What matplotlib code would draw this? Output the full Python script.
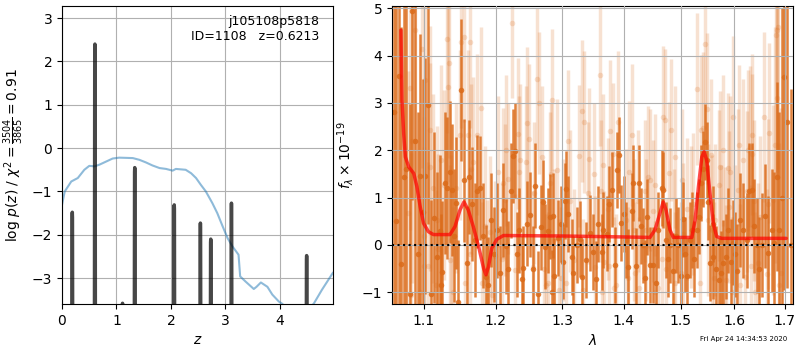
import numpy as np
import matplotlib
matplotlib.use('Agg')
import matplotlib.pyplot as plt
from matplotlib.ticker import FormatStrFormatter, NullLocator

# --- redshift fit: log p(z) peaks and smooth prior curve ---
pz_z = [0.000, 0.177, 0.186, 0.189, 0.192, 0.201,
        0.592, 0.601, 0.604, 0.607, 0.616,
        1.100, 1.108, 1.111, 1.114, 1.122,
        1.323, 1.332, 1.335, 1.338, 1.347,
        2.048, 2.057, 2.060, 2.063, 2.072,
        2.528, 2.537, 2.540, 2.543, 2.552,
        2.718, 2.727, 2.730, 2.733, 2.742,
        3.098, 3.107, 3.110, 3.113, 3.122,
        4.478, 4.487, 4.490, 4.493, 4.502, 4.970]
pz_logp = [-8.0, -8.0, -1.60, -1.48, -1.60, -8.0,
           -8.0, 2.30, 2.40, 2.30, -8.0,
           -8.0, -3.62, -3.58, -3.62, -8.0,
           -8.0, -0.55, -0.45, -0.55, -8.0,
           -8.0, -1.40, -1.31, -1.40, -8.0,
           -8.0, -1.82, -1.73, -1.82, -8.0,
           -8.0, -2.18, -2.10, -2.18, -8.0,
           -8.0, -1.36, -1.27, -1.36, -8.0,
           -8.0, -2.56, -2.48, -2.56, -8.0, -8.0]

prior_z = [0.00, 0.05, 0.17, 0.29, 0.41, 0.50, 0.60, 0.69, 0.81, 0.93, 1.05,
           1.30, 1.42, 1.54, 1.66, 1.79, 1.91, 2.03, 2.09, 2.27, 2.37, 2.46,
           2.55, 2.64, 2.76, 2.85, 2.95, 3.04, 3.13, 3.24, 3.27, 3.37, 3.52,
           3.57, 3.65, 3.77, 3.86, 3.98, 4.04, 4.20, 4.40, 4.62, 4.77, 4.97]
prior_logp = [-1.31, -1.00, -0.77, -0.69, -0.50, -0.41, -0.42, -0.38, -0.31,
              -0.24, -0.22, -0.23, -0.27, -0.33, -0.40, -0.46, -0.48, -0.52,
              -0.48, -0.50, -0.58, -0.69, -0.85, -1.00, -1.27, -1.50, -1.81,
              -2.08, -2.27, -2.46, -2.96, -3.08, -3.25, -3.20, -3.10, -3.20,
              -3.38, -3.54, -3.59, -3.80, -3.85, -3.59, -3.27, -2.88]

# --- spectrum, first orient (dark) ---
wave_a = [1.0610, 1.0645, 1.0674, 1.0705, 1.0745, 1.0773, 1.0816, 1.0855, 1.0890,
          1.0921, 1.0956, 1.0990, 1.1023, 1.1066, 1.1106, 1.1142, 1.1178, 1.1215,
          1.1240, 1.1252, 1.1289, 1.1322, 1.1357, 1.1384, 1.1415, 1.1442, 1.1474,
          1.1515, 1.1550, 1.1599, 1.1627, 1.1665, 1.1700, 1.1731, 1.1775, 1.1820,
          1.1863, 1.1883, 1.1939, 1.1975, 1.2017, 1.2065, 1.2113, 1.2148, 1.2186,
          1.2222, 1.2260, 1.2283, 1.2315, 1.2349, 1.2394, 1.2409, 1.2469, 1.2509,
          1.2560, 1.2585, 1.2635, 1.2672, 1.2705, 1.2738, 1.2779, 1.2813, 1.2850,
          1.2865, 1.2882, 1.2930, 1.2980, 1.3010, 1.3043, 1.3060, 1.3101, 1.3155,
          1.3171, 1.3234, 1.3287, 1.3323, 1.3385, 1.3447, 1.3501, 1.3540, 1.3582,
          1.3638, 1.3664, 1.3720, 1.3753, 1.3813, 1.3862, 1.3896, 1.3926, 1.3953,
          1.4008, 1.4045, 1.4081, 1.4139, 1.4167, 1.4212, 1.4269, 1.4300, 1.4338,
          1.4370, 1.4407, 1.4454, 1.4512, 1.4555, 1.4600, 1.4660, 1.4690, 1.4736,
          1.4770, 1.4806, 1.4860, 1.4910, 1.4957, 1.5000, 1.5048, 1.5085, 1.5121,
          1.5160, 1.5202, 1.5250, 1.5295, 1.5335, 1.5374, 1.5410, 1.5449, 1.5477,
          1.5510, 1.5543, 1.5592, 1.5601, 1.5650, 1.5700, 1.5745, 1.5790, 1.5840,
          1.5885, 1.5930, 1.5970, 1.6020, 1.6060, 1.6111, 1.6175, 1.6241, 1.6292,
          1.6340, 1.6390, 1.6438, 1.6490, 1.6538, 1.6604, 1.6670, 1.6738, 1.6790,
          1.6839, 1.6892, 1.6950, 1.6988, 1.7050, 1.7140]
flux_a = [2.80, 0.50, 3.57, -0.40, 1.44, 1.60, -1.03, 4.94, 2.20,
          -0.19, 1.46, 0.70, 1.46, 2.95, -1.04, 0.58, -0.26, 0.30,
          -0.84, -0.57, 1.31, 1.20, 1.55, 1.16, 0.20, 0.89, -1.20,
          3.27, 1.37, -0.38, 1.44, 0.86, 0.10, 1.13, 1.20, 0.20,
          -0.68, -0.84, 0.53, -0.20, 0.31, -0.60, 0.74, -0.03, -0.50,
          1.15, 1.88, 1.99, -0.20, 0.31, -0.72, -0.49, 0.45, 0.64,
          -0.50, 1.25, -1.03, 0.37, 0.90, -0.04, 0.30, 0.60, -1.00,
          0.62, -0.66, 0.15, 0.45, -0.35, 0.93, 1.18, 0.65, -0.25,
          -0.60, 0.00, 0.12, -0.67, -0.31, 0.26, -0.15, -0.72, 0.44,
          -0.15, 0.32, 0.24, 0.86, 1.17, -0.42, 1.58, 1.90, 0.46,
          0.66, 0.10, -0.46, 0.72, 1.31, -0.44, 1.31, 0.40, -0.01,
          -0.70, 0.59, -0.42, -0.42, -0.80, 0.31, 1.21, 1.16, 0.10,
          -0.30, -0.01, -0.55, 0.20, 0.00, -0.65, 0.54, -0.20, -0.66,
          0.10, 0.31, -0.30, 0.31, 0.60, 1.31, 1.60, 2.18, 1.79,
          0.90, -0.38, 0.45, -0.25, -0.50, -0.75, -0.60, -0.38, -0.25,
          0.31, -0.35, 0.05, -0.20, -0.55, 0.53, 0.31, 0.10, 1.15,
          1.16, 0.40, -0.01, -0.50, 0.00, 0.62, -0.16, 0.31, 0.05,
          1.44, 0.32, 1.00, 3.54, 2.60, 0.00]
err_a = [6.0, 5.5, 5.0, 5.0, 4.0, 4.0, 4.0, 4.0, 3.5,
         3.0, 3.0, 2.8, 2.5, 2.5, 2.0, 1.8, 1.8, 1.6,
         1.5, 1.5, 1.5, 1.5, 1.5, 1.4, 1.4, 1.4, 1.3,
         1.5, 1.3, 1.2, 1.2, 1.2, 1.2, 1.2, 1.1, 1.1,
         1.1, 1.0, 1.0, 1.0, 1.0, 1.0, 1.0, 1.0, 1.0,
         1.0, 1.0, 1.0, 0.9, 0.9, 0.9, 0.9, 0.9, 0.9,
         0.9, 0.9, 0.9, 0.9, 0.9, 0.9, 0.9, 0.9, 0.9,
         0.9, 0.8, 0.8, 0.8, 0.8, 0.8, 0.8, 0.8, 0.8,
         0.8, 0.8, 0.8, 0.8, 0.8, 0.8, 0.8, 0.8, 0.8,
         0.8, 0.8, 0.8, 0.8, 0.8, 0.8, 0.8, 0.8, 0.8,
         0.8, 0.8, 0.8, 0.8, 0.8, 0.8, 0.8, 0.8, 0.8,
         0.8, 0.8, 0.8, 0.8, 0.8, 0.8, 0.8, 0.8, 0.8,
         0.8, 0.8, 0.8, 0.8, 0.8, 0.8, 0.8, 0.8, 0.8,
         0.8, 0.8, 0.8, 0.8, 0.8, 0.8, 0.8, 0.8, 0.8,
         0.8, 0.8, 0.8, 0.9, 0.9, 0.9, 0.9, 0.9, 0.9,
         0.9, 0.9, 0.9, 0.9, 1.0, 1.0, 1.0, 1.0, 1.0,
         1.0, 1.0, 1.0, 1.1, 1.1, 1.1, 1.2, 1.3, 1.5,
         2.0, 2.5, 4.0, 4.5, 3.5, 3.3]

# --- spectrum, second orient (light) ---
wave_b = [1.0800, 1.0826, 1.0830, 1.0850, 1.0891, 1.0950, 1.0979, 1.1000, 1.1010,
          1.1022, 1.1060, 1.1080, 1.1085, 1.1130, 1.1164, 1.1180, 1.1195, 1.1240,
          1.1270, 1.1312, 1.1333, 1.1347, 1.1355, 1.1376, 1.1395, 1.1445, 1.1490,
          1.1515, 1.1550, 1.1560, 1.1604, 1.1628, 1.1640, 1.1650, 1.1680, 1.1731,
          1.1785, 1.1800, 1.1850, 1.1880, 1.1920, 1.1945, 1.1985, 1.2041, 1.2085,
          1.2100, 1.2140, 1.2153, 1.2180, 1.2245, 1.2284, 1.2325, 1.2340, 1.2362,
          1.2441, 1.2469, 1.2495, 1.2557, 1.2575, 1.2620, 1.2645, 1.2691, 1.2715,
          1.2745, 1.2781, 1.2805, 1.2825, 1.2845, 1.2870, 1.2922, 1.2945, 1.2980,
          1.3010, 1.3065, 1.3101, 1.3130, 1.3183, 1.3264, 1.3313, 1.3330, 1.3355,
          1.3420, 1.3436, 1.3512, 1.3530, 1.3609, 1.3620, 1.3640, 1.3655, 1.3670,
          1.3745, 1.3760, 1.3778, 1.3822, 1.3839, 1.3875, 1.3903, 1.4040, 1.4070,
          1.4095, 1.4148, 1.4170, 1.4195, 1.4240, 1.4265, 1.4370, 1.4385, 1.4424,
          1.4460, 1.4500, 1.4535, 1.4550, 1.4590, 1.4660, 1.4680, 1.4710, 1.4735,
          1.4790, 1.4820, 1.4880, 1.4890, 1.4905, 1.5000, 1.5020, 1.5040, 1.5110,
          1.5180, 1.5215, 1.5305, 1.5360, 1.5380, 1.5400, 1.5449, 1.5477, 1.5500,
          1.5560, 1.5580, 1.5610, 1.5635, 1.5700, 1.5725, 1.5745, 1.5790, 1.5815,
          1.5850, 1.5875, 1.5900, 1.5925, 1.5950, 1.5985, 1.6005, 1.6080, 1.6100,
          1.6120, 1.6170, 1.6200, 1.6240, 1.6270, 1.6300, 1.6325, 1.6340, 1.6355,
          1.6380, 1.6410, 1.6460, 1.6500, 1.6590, 1.6640, 1.6660, 1.6680, 1.6760,
          1.6800, 1.6825, 1.6839, 1.6853, 1.6865, 1.6880, 1.6920]
flux_b = [0.67, 3.32, -1.05, 2.20, 4.54, -1.00, 4.13, 0.20, -0.44,
          3.48, -0.44, 2.42, 1.65, 1.20, -0.84, 0.52, -0.08, 1.80,
          1.27, 4.36, 3.34, 3.84, -0.32, 0.10, -1.00, 1.20, 2.32,
          4.28, 4.40, -0.80, 2.32, 4.28, -0.18, 1.60, 1.75, 2.33,
          2.90, -0.80, 0.40, -0.74, 0.28, -1.05, -0.24, 1.55, -0.30,
          1.30, 0.95, 2.00, 1.40, 4.70, -0.53, 2.35, 1.55, 1.80,
          1.75, 2.58, 2.23, -0.46, 1.10, 3.50, 3.00, 1.86, -0.50,
          -0.85, -0.80, 1.30, 1.50, 3.06, 0.10, 1.58, -0.95, -0.70,
          0.31, -0.80, 2.20, 0.92, -0.32, 1.88, 2.84, -0.96, 2.60,
          1.10, 1.82, 1.50, -0.46, 3.60, 1.15, -1.00, 1.70, -0.37,
          0.75, -0.44, 2.40, 1.92, -0.90, -0.85, 2.59, 0.53, -0.70,
          1.55, 2.33, 0.31, -0.60, 0.93, -0.90, 1.15, 0.31, 1.44,
          1.37, 0.72, 1.26, -1.00, -0.90, -0.30, 2.71, 2.63, -0.50,
          1.52, 2.43, 0.10, -0.80, 1.86, -0.60, 1.37, 0.24, 0.75,
          0.60, 0.86, 3.30, -0.80, 2.42, 2.47, 4.24, 2.88, 0.53,
          1.90, 0.31, -0.70, 0.53, 1.26, 1.65, 0.10, 2.00, 0.05,
          -0.75, 1.62, 0.80, 1.55, -1.00, 2.71, 0.00, 1.17, 2.11,
          -0.84, 1.80, -0.67, 1.13, 2.00, 2.08, -0.44, 2.33, 1.92,
          0.93, -1.00, -0.39, 0.60, 2.70, -0.62, 0.86, 2.36, 0.95,
          2.11, 4.43, 4.54, 3.11, 4.60, -0.85, -0.60]
err_b = [3.0, 3.0, 3.0, 3.0, 3.0, 2.5, 2.5, 2.5, 2.5,
         2.5, 2.2, 2.2, 2.2, 2.0, 2.0, 2.0, 2.0, 2.0,
         2.0, 2.0, 2.0, 2.0, 2.0, 1.8, 1.8, 1.8, 1.8,
         1.8, 1.8, 1.8, 1.8, 1.8, 1.8, 1.8, 1.8, 1.7,
         1.7, 1.7, 1.7, 1.7, 1.6, 1.6, 1.6, 1.6, 1.6,
         1.6, 1.6, 1.6, 1.6, 1.6, 1.6, 1.6, 1.6, 1.6,
         1.6, 1.6, 1.6, 1.6, 1.5, 1.5, 1.5, 1.5, 1.5,
         1.5, 1.5, 1.5, 1.5, 1.5, 1.5, 1.5, 1.5, 1.5,
         1.5, 1.5, 1.5, 1.5, 1.5, 1.5, 1.5, 1.5, 1.5,
         1.5, 1.5, 1.5, 1.5, 1.5, 1.5, 1.5, 1.5, 1.5,
         1.5, 1.5, 1.5, 1.5, 1.5, 1.5, 1.5, 1.5, 1.5,
         1.5, 1.5, 1.5, 1.5, 1.5, 1.5, 1.5, 1.5, 1.5,
         1.5, 1.5, 1.5, 1.5, 1.5, 1.5, 1.5, 1.5, 1.5,
         1.5, 1.5, 1.5, 1.5, 1.5, 1.5, 1.5, 1.5, 1.5,
         1.5, 1.5, 1.6, 1.6, 1.6, 1.6, 1.8, 1.6, 1.6,
         1.6, 1.6, 1.6, 1.6, 1.6, 1.6, 1.6, 1.6, 1.6,
         1.6, 1.6, 1.6, 1.6, 1.6, 1.7, 1.7, 1.7, 1.7,
         1.7, 1.7, 1.7, 1.7, 1.7, 1.7, 1.7, 1.7, 1.7,
         1.7, 1.7, 1.7, 1.7, 1.8, 1.8, 1.8, 1.9, 2.0,
         2.5, 3.0, 3.0, 3.0, 3.0, 3.0, 3.5]

# --- best-fit model ---
model_wave = [1.0705, 1.0718, 1.0740, 1.0762, 1.0806, 1.0872, 1.0913, 1.0956,
              1.1000, 1.1066, 1.1133, 1.1357, 1.1426, 1.1495, 1.1550, 1.1610, 1.1680,
              1.1757, 1.1826, 1.1860, 1.1896, 1.1943, 1.2017, 1.2113, 1.3000, 1.4000,
              1.4454, 1.4541, 1.4628, 1.4686, 1.4736, 1.4806, 1.4866, 1.5202, 1.5262,
              1.5323, 1.5386, 1.5428, 1.5477, 1.5538, 1.5600, 1.5663, 1.5757, 1.7034]
model_flux = [4.54, 3.06, 2.36, 1.86, 1.65, 1.51, 1.23, 0.81,
              0.46, 0.28, 0.22, 0.22, 0.39, 0.74, 0.91, 0.74, 0.39,
              -0.04, -0.49, -0.63, -0.46, -0.07, 0.12, 0.20, 0.19, 0.17,
              0.16, 0.32, 0.67, 0.91, 0.74, 0.32, 0.16, 0.16, 0.53,
              1.23, 1.86, 1.97, 1.79, 1.09, 0.46, 0.18, 0.14, 0.14]

spec_color = (0.86, 0.42, 0.10)

fig = plt.figure(figsize=(8, 3.5), dpi=100)
ax1 = fig.add_axes([0.0775, 0.131, 0.3385, 0.852])
ax2 = fig.add_axes([0.49, 0.131, 0.501, 0.852])

# left: p(z)
ax1.plot(prior_z, prior_logp, color='tab:blue', alpha=0.5, lw=1.5)
ax1.plot(pz_z, pz_logp, color='k', alpha=0.72, lw=2.5)
ax1.set_xlim(0, 4.97)
ax1.set_ylim(-3.6, 3.28)
ax1.set_xticks([0, 1, 2, 3, 4])
ax1.set_yticks([-3, -2, -1, 0, 1, 2, 3])
ax1.grid(True)
ax1.set_xlabel('$z$')
ax1.set_ylabel(r'log $p(z)$ / $\chi^2=\frac{3504}{3865}=0.91$')
ax1.text(0.95, 0.97, 'j105108p5818\nID=1108   z=0.6213', transform=ax1.transAxes,
         ha='right', va='top', fontsize=9)

# right: spectrum
ax2.errorbar(wave_b, flux_b, yerr=err_b, fmt='o', color=spec_color, alpha=0.2,
             ms=4, elinewidth=2.5, mew=0, zorder=1)
ax2.errorbar(wave_a, flux_a, yerr=err_a, fmt='o', color=spec_color, alpha=0.85,
             ms=4, elinewidth=1.8, mew=0, zorder=2)
ax2.plot(model_wave, model_flux, color='r', alpha=0.7, lw=2.5,
         solid_capstyle='round', zorder=4)
ax2.axhline(0, color='k', ls=':', lw=1.5, zorder=5)

ax2.set_xscale('log')
ax2.set_xlim(1.059, 1.717)
ax2.set_ylim(-1.25, 5.05)
ax2.set_xticks([1.1, 1.2, 1.3, 1.4, 1.5, 1.6, 1.7])
ax2.xaxis.set_major_formatter(FormatStrFormatter('%.1f'))
ax2.xaxis.set_minor_locator(NullLocator())
ax2.set_yticks([-1, 0, 1, 2, 3, 4, 5])
ax2.set_axisbelow(False)
ax2.grid(True)
ax2.set_xlabel(r'$\lambda$')
ax2.set_ylabel(r'$f_\lambda \times 10^{-19}$')

fig.text(0.984, 0.022, 'Fri Apr 24 14:34:53 2020', ha='right', va='bottom', fontsize=5)

fig.savefig('out.png', dpi=100)
